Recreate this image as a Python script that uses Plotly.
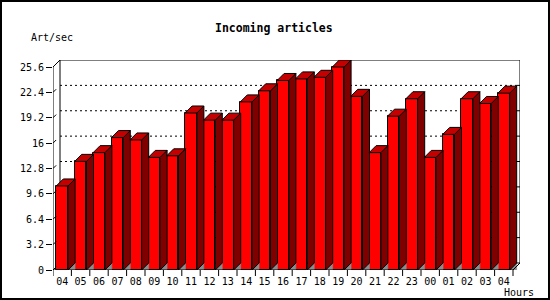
import plotly.graph_objects as go

# ---- data ----
hours = ["04", "05", "06", "07", "08", "09", "10", "11", "12", "13", "14", "15",
         "16", "17", "18", "19", "20", "21", "22", "23", "00", "01", "02", "03", "04"]
articles = [10.6, 13.7, 14.8, 16.7, 16.4, 14.2, 14.4, 19.8, 18.9, 18.9, 21.2, 22.6,
            23.9, 24.1, 24.3, 25.6, 21.9, 14.8, 19.4, 21.6, 14.2, 17.1, 21.6, 21.0, 22.3]
y_ticks = [0, 3.2, 6.4, 9.6, 12.8, 16, 19.2, 22.4, 25.6]
y_tick_labels = ["0", "3.2", "6.4", "9.6", "12.8", "16", "19.2", "22.4", "25.6"]

# ---- geometry ----
W, H = 550, 300
ml, mr, mt, mb = 53, 30, 60, 30
plot_w = W - ml - mr
plot_h = H - mt - mb
depth_px = 7
n = len(hours)
x_unit = (plot_w - depth_px) / n
dx = depth_px / x_unit
ymax = y_ticks[-1]
y_unit = (plot_h - depth_px) / ymax
dy = depth_px / y_unit
bw = 0.64
xr = [-0.5, n - 0.5 + dx]
yr = [0, ymax + dy]

FRONT = "#FF0000"
SIDE = "#800000"
TOP = "#C40000"
SHADOW = "#8C8C8C"
FONT = "DejaVu Sans Mono"

xs = list(range(n))

side_x, side_y, top_x, top_y, sh_x, sh_y = [], [], [], [], [], []
for i, v in zip(xs, articles):
    r = i + bw / 2
    l = i - bw / 2
    sh_x += [r, r + dx, r + dx, r, None]
    sh_y += [0, dy, 0, 0, None]
    side_x += [r, r + dx, r + dx, r, r, None]
    side_y += [0, dy, v + dy, v, 0, None]
    top_x += [l, l + dx, r + dx, r, l, None]
    top_y += [v, v + dy, v + dy, v, v, None]

fig = go.Figure()
fig.add_trace(go.Scatter(x=sh_x, y=sh_y, mode="lines", fill="toself", fillcolor=SHADOW,
                         line=dict(color=SHADOW, width=0.5), hoverinfo="skip", showlegend=False))
fig.add_trace(go.Scatter(x=side_x, y=side_y, mode="lines", fill="toself", fillcolor=SIDE,
                         line=dict(color="black", width=1), hoverinfo="skip", showlegend=False))
fig.add_trace(go.Scatter(x=top_x, y=top_y, mode="lines", fill="toself", fillcolor=TOP,
                         line=dict(color="black", width=1), hoverinfo="skip", showlegend=False))
fig.add_trace(go.Bar(x=xs, y=articles, width=bw, marker=dict(color=FRONT, line=dict(color="black", width=1)),
                     showlegend=False))

shapes = []
# back wall
shapes.append(dict(type="rect", xref="x", yref="y", x0=-0.5 + dx, y0=dy, x1=n - 0.5 + dx, y1=ymax + dy,
                   line=dict(color="black", width=1), layer="below"))
# dotted grid lines on back wall
for v in y_ticks[1:-1]:
    shapes.append(dict(type="line", xref="x", yref="y", x0=-0.5 + dx, x1=n - 0.5 + dx, y0=v + dy, y1=v + dy,
                       line=dict(color="black", width=1, dash="2px,3px"), layer="below"))
    # small tick on right wall
    shapes.append(dict(type="line", xref="x", yref="y", x0=n - 0.5 + dx - 3 / x_unit, x1=n - 0.5 + dx,
                       y0=v + dy, y1=v + dy, line=dict(color="black", width=1), layer="below"))
# bottom-left floor diagonal
shapes.append(dict(type="line", xref="x", yref="y", x0=-0.5, y0=0, x1=-0.5 + dx, y1=dy,
                   line=dict(color="black", width=1), layer="below"))
# front y axis + top diagonal
shapes.append(dict(type="line", xref="x", yref="y", x0=-0.5, y0=0, x1=-0.5, y1=ymax,
                   line=dict(color="black", width=1)))
shapes.append(dict(type="line", xref="x", yref="y", x0=-0.5, y0=ymax, x1=-0.5 + dx, y1=ymax + dy,
                   line=dict(color="black", width=1)))
# diagonal y ticks
for v in y_ticks[:-1]:
    shapes.append(dict(type="line", xref="x", yref="y", x0=-0.5, y0=v, x1=-0.5 + 0.45 * dx, y1=v + 0.45 * dy,
                       line=dict(color="black", width=1)))
# front x axis + right diagonal
shapes.append(dict(type="line", xref="x", yref="y", x0=-0.5, y0=0, x1=n - 0.5, y1=0,
                   line=dict(color="black", width=1)))
shapes.append(dict(type="line", xref="x", yref="y", x0=n - 0.5, y0=0, x1=n - 0.5 + dx, y1=dy,
                   line=dict(color="black", width=1)))
# x tick marks at category boundaries
for i in range(n + 1):
    shapes.append(dict(type="line", xref="x", yref="paper", x0=i - 0.5, x1=i - 0.5,
                       y0=0, y1=-6 / plot_h, line=dict(color="black", width=1)))
# outer border
shapes.append(dict(type="rect", xref="paper", yref="paper",
                   x0=(1 - ml) / plot_w, x1=(W - 1 - ml) / plot_w,
                   y0=(plot_h + mt - (H - 1)) / plot_h, y1=(plot_h + mt - 1) / plot_h,
                   line=dict(color="black", width=2)))

def px_to_paper(px, py):
    return (px - ml) / plot_w, (mt + plot_h - py) / plot_h

annotations = []
tx, ty = px_to_paper(274, 27.5)
annotations.append(dict(text="<b>Incoming articles</b>", x=tx, y=ty, xref="paper", yref="paper",
                        xanchor="center", yanchor="middle", showarrow=False,
                        font=dict(family=FONT, size=11.5, color="black")))
ax_, ay_ = px_to_paper(29, 37.5)
annotations.append(dict(text="Art/sec", x=ax_, y=ay_, xref="paper", yref="paper",
                        xanchor="left", yanchor="middle", showarrow=False,
                        font=dict(family=FONT, size=10, color="black")))
hx, hy = px_to_paper(536, 292)
annotations.append(dict(text="Hours", x=hx, y=hy, xref="paper", yref="paper",
                        xanchor="right", yanchor="middle", showarrow=False,
                        font=dict(family=FONT, size=10, color="black")))

fig.update_layout(
    width=W, height=H,
    margin=dict(l=ml, r=mr, t=mt, b=mb, pad=0),
    paper_bgcolor="white", plot_bgcolor="white",
    bargap=0,
    shapes=shapes, annotations=annotations,
    xaxis=dict(range=xr, tickmode="array", tickvals=xs, ticktext=hours,
               ticks="outside", ticklen=2, tickcolor="rgba(0,0,0,0)",
               showgrid=False, zeroline=False, showline=False, fixedrange=True,
               tickfont=dict(family=FONT, size=10, color="black")),
    yaxis=dict(range=yr, tickmode="array", tickvals=y_ticks, ticktext=y_tick_labels,
               ticks="outside", ticklen=6, tickcolor="black",
               showgrid=False, zeroline=False, showline=False, fixedrange=True,
               tickfont=dict(family=FONT, size=10, color="black")),
)

fig.write_html("out.html")
